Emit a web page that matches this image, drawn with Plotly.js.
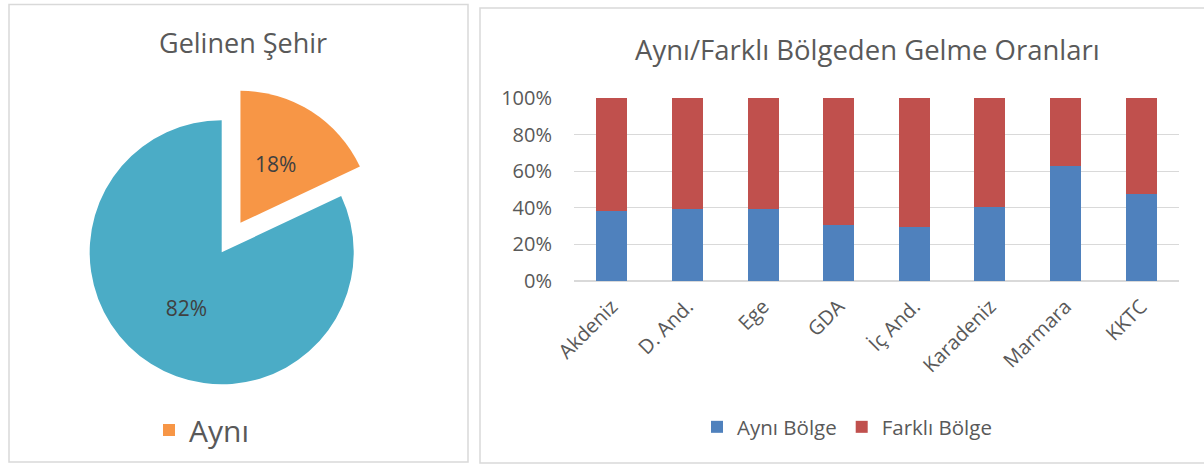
<!DOCTYPE html>
<html>
<head>
<meta charset="utf-8">
<script src="https://cdn.plot.ly/plotly-3.0.1.min.js"></script>
<style>html,body{margin:0;padding:0;background:#fff;}#chart{width:1204px;height:464px;}</style>
</head>
<body>
<div id="chart"></div>
<script>
// ---- Data ----
const pieTitle = "Gelinen Şehir";
const pieLabels = ["Aynı", "Farklı"];
const pieValues = [18, 82];
const pieColors = ["#F79646", "#4BACC6"];

const barTitle = "Aynı/Farklı Bölgeden Gelme Oranları";
const regions = ["Akdeniz", "D. And.", "Ege", "GDA", "İç And.", "Karadeniz", "Marmara", "KKTC"];
const ayniBolge = [38.5, 39.5, 39.5, 30.5, 29.5, 40.5, 62.7, 47.4];
const farkliBolge = [61.5, 60.5, 60.5, 69.5, 70.5, 59.5, 37.3, 52.6];
const seriesNames = ["Aynı Bölge", "Farklı Bölge"];
const seriesColors = ["#4F81BD", "#C0504D"];
const yTicks = [0, 20, 40, 60, 80, 100];
const yTickLabels = ["0%", "20%", "40%", "60%", "80%", "100%"];

// ---- Layout helpers (pixel -> paper) ----
const W = 1204, H = 464;
const px = v => v / W;
const py = v => 1 - v / H;
const FONT = "Open Sans, Noto Sans, sans-serif";
const TXT = "#595959";
const NB = "\u00A0";

const traces = [
  {
    type: "pie",
    labels: pieLabels,
    values: pieValues,
    marker: {colors: pieColors, line: {width: 0}},
    sort: false,
    direction: "clockwise",
    rotation: 0,
    pull: [0.265, 0],
    // label of the small slice nudged toward the slice centre (as in the reference)
    texttemplate: [NB + "<br>%{percent}" + NB.repeat(4), "%{percent}"],
    textposition: "inside",
    insidetextorientation: "horizontal",
    textfont: {family: FONT, size: 21, color: "#404040"},
    domain: {x: [px(54.7), px(388.7)], y: [py(419.3), py(85.3)]},
    showlegend: false,
    hoverinfo: "label+percent"
  },
  {
    type: "bar",
    name: seriesNames[0],
    x: regions,
    y: ayniBolge,
    marker: {color: seriesColors[0]},
    legend: "legend"
  },
  {
    type: "bar",
    name: seriesNames[1],
    x: regions,
    y: farkliBolge,
    marker: {color: seriesColors[1]},
    legend: "legend"
  },
  {
    // legend-only entry for the pie chart (reference legend shows just the first slice)
    type: "bar",
    name: pieLabels[0],
    x: [null],
    y: [null],
    marker: {color: pieColors[0]},
    legend: "legend2",
    hoverinfo: "skip"
  }
];

const layout = {
  width: W,
  height: H,
  margin: {l: 0, r: 0, t: 0, b: 0},
  paper_bgcolor: "#ffffff",
  plot_bgcolor: "rgba(0,0,0,0)",
  font: {family: FONT, color: TXT},
  barmode: "stack",
  bargap: 0.59,
  xaxis: {
    domain: [px(574), px(1179)],
    type: "category",
    tickangle: -45,
    tickfont: {family: FONT, size: 20, color: TXT},
    showgrid: false,
    showline: false,
    zeroline: false,
    ticks: "",
    ticklabelstandoff: 9,
    fixedrange: true
  },
  yaxis: {
    domain: [py(281), py(98)],
    range: [0, 100],
    tickmode: "array",
    tickvals: yTicks,
    ticktext: yTickLabels,
    tickfont: {family: FONT, size: 20, color: TXT},
    showgrid: true,
    gridcolor: "#D9D9D9",
    gridwidth: 1.3,
    zeroline: true,
    zerolinecolor: "#D9D9D9",
    zerolinewidth: 1.3,
    showline: false,
    ticks: "",
    ticklabelstandoff: 21,
    fixedrange: true
  },
  legend: {
    orientation: "h",
    x: px(847),
    xanchor: "center",
    y: py(427),
    yanchor: "middle",
    font: {family: FONT, size: 20.5, color: TXT},
    bgcolor: "rgba(0,0,0,0)",
    traceorder: "normal"
  },
  legend2: {
    orientation: "h",
    x: px(149),
    xanchor: "left",
    y: py(430),
    yanchor: "middle",
    font: {family: FONT, size: 30, color: TXT},
    bgcolor: "rgba(0,0,0,0)"
  },
  shapes: [
    {type: "rect", xref: "paper", yref: "paper", x0: px(9), x1: px(468), y0: py(462), y1: py(4.5),
     line: {color: "#D9D9D9", width: 1.5}, layer: "below"},
    {type: "rect", xref: "paper", yref: "paper", x0: px(480), x1: px(1215), y0: py(463), y1: py(8),
     line: {color: "#D9D9D9", width: 1.5}, layer: "below"}
  ],
  annotations: [
    {text: pieTitle, xref: "paper", yref: "paper", x: px(243), y: py(42), xanchor: "center", yanchor: "middle",
     showarrow: false, font: {family: FONT, size: 27, color: TXT}},
    {text: barTitle, xref: "paper", yref: "paper", x: px(868), y: py(49), xanchor: "center", yanchor: "middle",
     showarrow: false, font: {family: FONT, size: 27.5, color: TXT}}
  ]
};

Plotly.newPlot("chart", traces, layout, {displayModeBar: false, staticPlot: true});
</script>
</body>
</html>
